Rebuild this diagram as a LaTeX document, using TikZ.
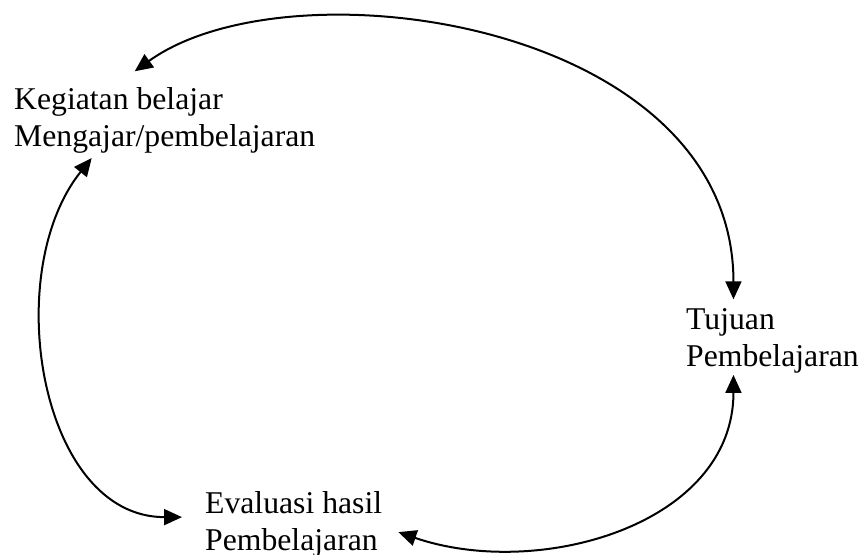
\documentclass[tikz,border=0pt]{standalone}
\usepackage{fontspec}
\setmainfont{Liberation Serif}
\usetikzlibrary{arrows.meta}
\begin{document}
\begin{tikzpicture}[x=1pt,y=-1pt,
  lbl/.style={font=\fontsize{31.7}{36.5}\selectfont, align=left, inner sep=0pt, anchor=base west},
  link/.style={line width=2pt, {Triangle[length=18pt,width=16pt]}-{Triangle[length=18pt,width=16pt]}}]
\useasboundingbox (0,0) rectangle (864,554);
\node[lbl] (keg) at (14,146) {Kegiatan belajar\\Mengajar/pembelajaran};
\node[lbl] (tuj) at (686,366) {Tujuan\\Pembelajaran};
\node[lbl] (eva) at (205,550) {Evaluasi hasil\\Pembelajaran};
\draw[link] ([shift={(-30,-16)}]keg.north) .. controls +(155,-112) and +(0,-278) .. ([shift={(-39,-9)}]tuj.north);
\draw[link] ([shift={(-73,5)}]keg.south) .. controls +(-92,115) and +(-142,0) .. ([shift={(-23,-7)}]eva.west);
\draw[link] ([shift={(16,8)}]eva.east) .. controls +(140,48) and +(0,150) .. ([shift={(-39,2)}]tuj.south);
\end{tikzpicture}
\end{document}
